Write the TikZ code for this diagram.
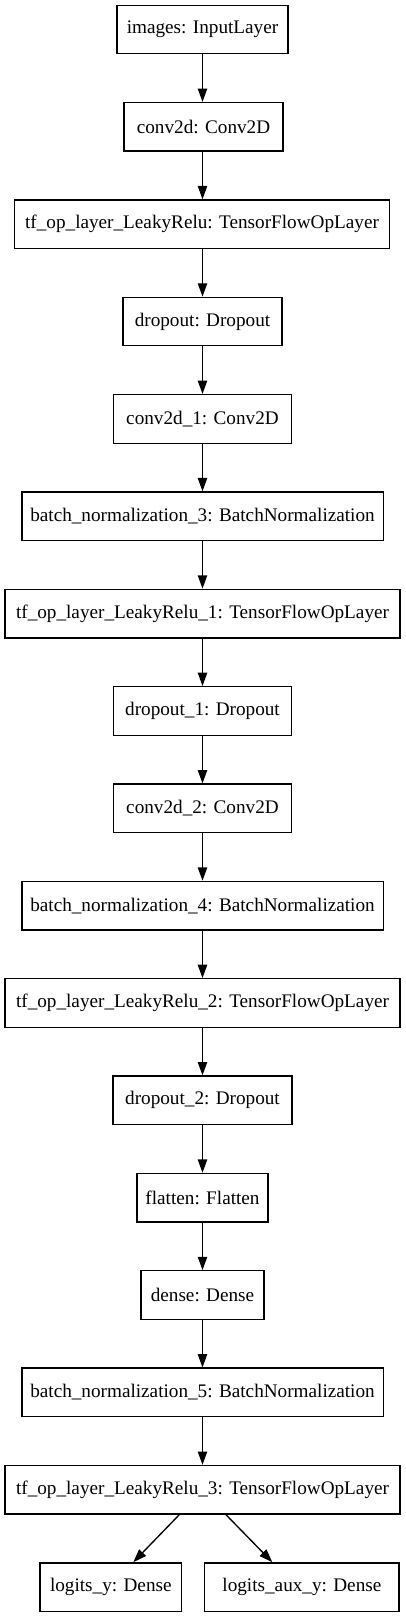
\documentclass[tikz,border=0pt]{standalone}
\usepackage{fontspec}
\setmainfont{Liberation Serif}
\usetikzlibrary{arrows.meta}
\begin{document}
\begin{tikzpicture}[x=0.75pt,y=-0.75pt,
  layer/.style={draw=black, line width=1pt, minimum height=36.4pt, inner sep=0pt,
    font=\fontsize{14.4}{16}\selectfont},
  edge/.style={-{Triangle[length=10pt,width=7pt]}, line width=1pt}]
\useasboundingbox (0,0) rectangle (405,1617);
\node[layer, minimum width=128.25pt] (n0) at (202.5,29.5) {images: InputLayer};
\node[layer, minimum width=119.25pt] (n1) at (203.5,126.85) {conv2d: Conv2D};
\node[layer, minimum width=281.5pt] (n2) at (202,224.2) {tf\_op\_layer\_LeakyRelu: TensorFlowOpLayer};
\node[layer, minimum width=119.25pt] (n3) at (202.5,321.55) {dropout: Dropout};
\node[layer, minimum width=133.2pt] (n4) at (202.5,418.9) {conv2d\_1: Conv2D};
\node[layer, minimum width=271pt] (n5) at (202.5,516.25) {batch\_normalization\_3: BatchNormalization};
\node[layer, minimum width=296.25pt] (n6) at (202.5,613.6) {tf\_op\_layer\_LeakyRelu\_1: TensorFlowOpLayer};
\node[layer, minimum width=133.5pt] (n7) at (202.5,710.95) {dropout\_1: Dropout};
\node[layer, minimum width=133.2pt] (n8) at (202.5,808.3) {conv2d\_2: Conv2D};
\node[layer, minimum width=271pt] (n9) at (202.5,905.65) {batch\_normalization\_4: BatchNormalization};
\node[layer, minimum width=296.25pt] (n10) at (202.5,1003.0) {tf\_op\_layer\_LeakyRelu\_2: TensorFlowOpLayer};
\node[layer, minimum width=134.25pt] (n11) at (202.5,1100.35) {dropout\_2: Dropout};
\node[layer, minimum width=98.25pt] (n12) at (202.5,1197.7) {flatten: Flatten};
\node[layer, minimum width=92.25pt] (n13) at (202.5,1295.05) {dense: Dense};
\node[layer, minimum width=271pt] (n14) at (202.5,1392.4) {batch\_normalization\_5: BatchNormalization};
\node[layer, minimum width=296.25pt] (n15) at (202.5,1489.75) {tf\_op\_layer\_LeakyRelu\_3: TensorFlowOpLayer};
\node[layer, minimum width=106.3pt] (ly) at (110.8,1587.1) {logits\_y: Dense};
\node[layer, minimum width=145.7pt] (lay) at (301.9,1587.1) {logits\_aux\_y: Dense};
\foreach \a/\b in {n0/n1,n1/n2,n2/n3,n3/n4,n4/n5,n5/n6,n6/n7,n7/n8,n8/n9,n9/n10,n10/n11,n11/n12,n12/n13,n13/n14,n14/n15}
  \draw[edge] (\a.south -| 202.5,0) -- (\b.north -| 202.5,0);
\draw[edge] ([xshift=-17.4pt]n15.south) -- ([xshift=16.9pt]ly.north);
\draw[edge] ([xshift=17.6pt]n15.south) -- ([xshift=-22.2pt]lay.north);
\end{tikzpicture}
\end{document}
